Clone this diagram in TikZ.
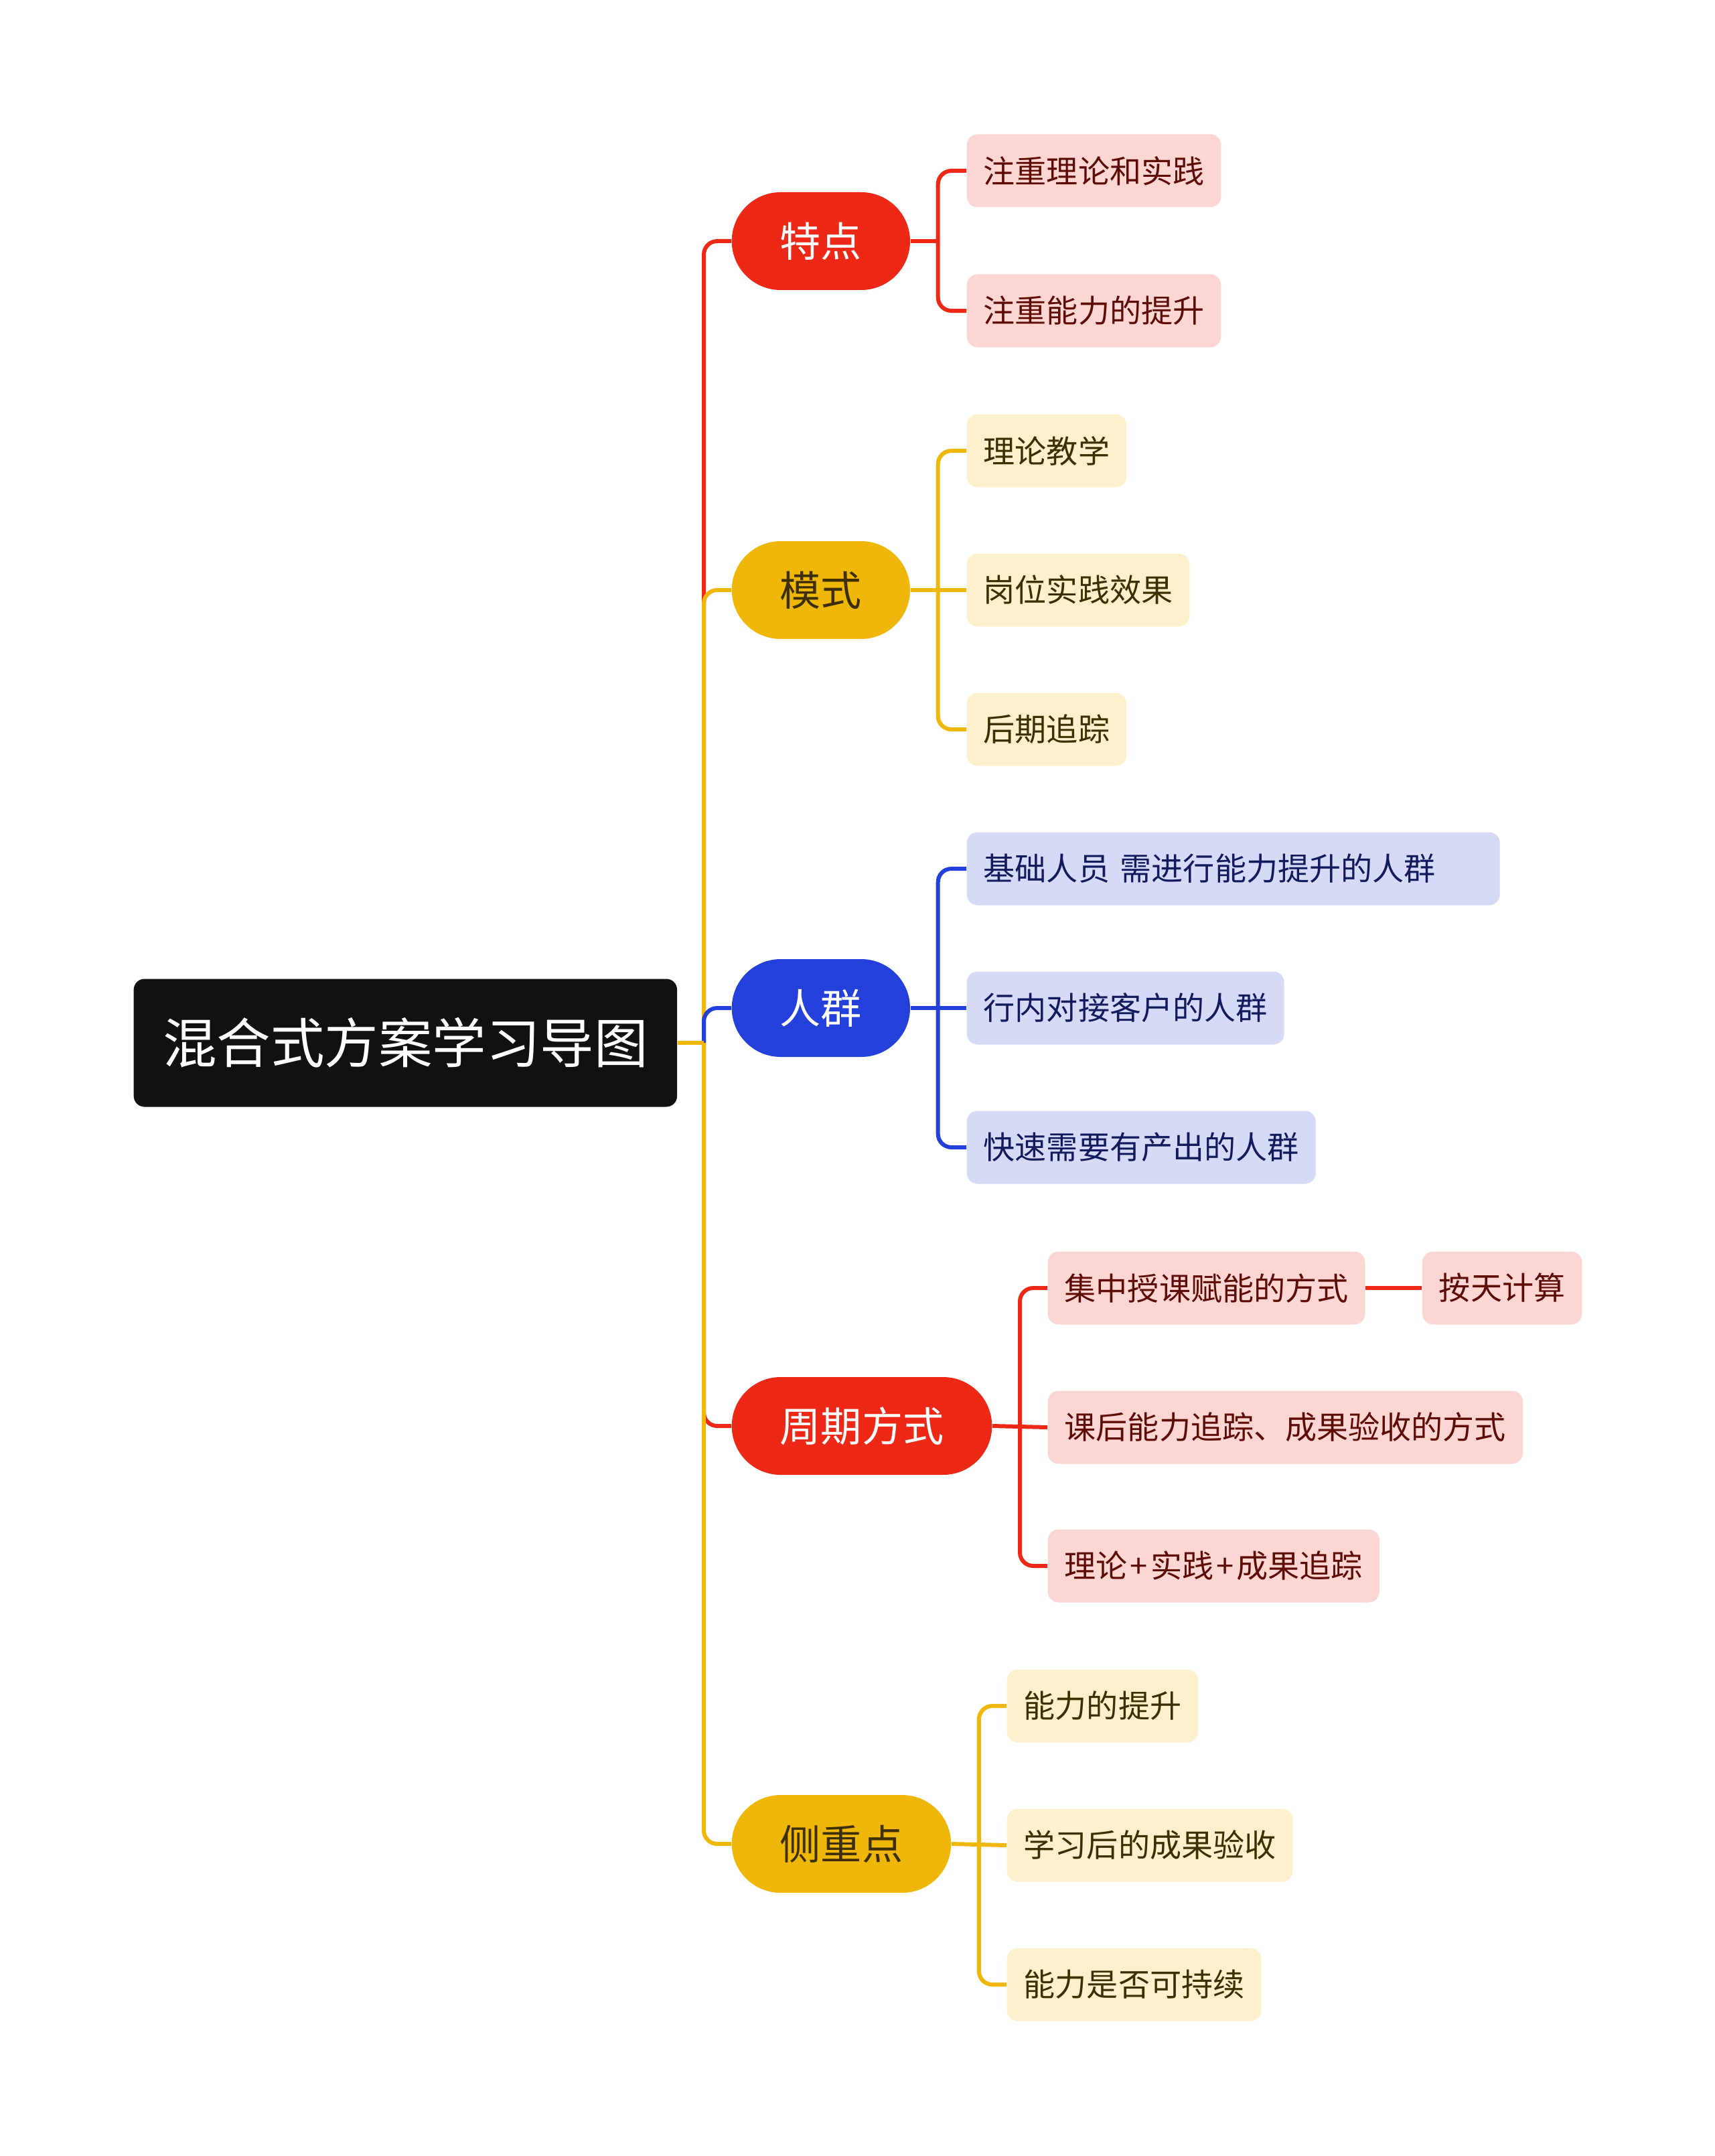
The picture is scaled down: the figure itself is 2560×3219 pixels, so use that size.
\documentclass[tikz,border=0pt]{standalone}
\usepackage{fontspec}
\setmainfont{Noto Sans CJK SC}
\usetikzlibrary{positioning}
\definecolor{rootbg}{HTML}{111111}
\definecolor{redmain}{HTML}{EE2817}
\definecolor{yelmain}{HTML}{EFB70A}
\definecolor{bluemain}{HTML}{2440DA}
\definecolor{redsub}{HTML}{FCD6D3}
\definecolor{yelsub}{HTML}{FDF1CD}
\definecolor{bluesub}{HTML}{D6DAF7}
\definecolor{redtxt}{HTML}{5E0C06}
\definecolor{yeltxt}{HTML}{3E2F00}
\definecolor{bluetxt}{HTML}{131B5C}

\begin{document}
\begin{tikzpicture}
  [x=0.1mm, y=-0.1mm,
   root/.style={fill=rootbg, text=white, rounded corners=1.6mm, anchor=west,
     inner xsep=4.35mm, inner ysep=0pt, minimum height=19.1mm,
     font=\fontsize{22.9pt}{27pt}\selectfont},
   lvone/.style={rounded corners=7.3mm, anchor=west, inner xsep=7.2mm,
     inner ysep=0pt, minimum height=14.6mm,
     font=\fontsize{17.4pt}{20pt}\selectfont},
   lvtwo/.style={rounded corners=1.6mm, anchor=west, inner xsep=2.5mm,
     inner ysep=0pt, minimum height=10.9mm,
     font=\fontsize{13.4pt}{16pt}\selectfont},
   redone/.style={lvone, fill=redmain, text=white},
   yelone/.style={lvone, fill=yelmain, text=yeltxt},
   blueone/.style={lvone, fill=bluemain, text=white},
   redtwo/.style={lvtwo, fill=redsub, text=redtxt},
   yeltwo/.style={lvtwo, fill=yelsub, text=yeltxt},
   bluetwo/.style={lvtwo, fill=bluesub, text=bluetxt},
   link/.style={line width=0.6mm, rounded corners=2mm, line join=round},
  ]
  \useasboundingbox (0,0) rectangle (2560,3219);

  % centre
  \node[root, minimum width=81.1mm] (root) at (199,1557) {混合式方案学习导图};
  \coordinate (trunk) at (1051,1557);

  % main topics
  \node[redone]  (tedian)  at (1092,360)  {特点};
  \node[yelone]  (moshi)   at (1092,881)  {模式};
  \node[blueone] (renqun)  at (1092,1505) {人群};
  \node[redone]  (zhouqi)  at (1092,2129) {周期方式};
  \node[yelone]  (cezhong) at (1092,2753) {侧重点};

  % sub topics
  \node[redtwo] (td1) at (1443,255) {注重理论和实践};
  \node[redtwo] (td2) at (1443,464) {注重能力的提升};

  \node[yeltwo] (ms1) at (1443,673)  {理论教学};
  \node[yeltwo] (ms2) at (1443,881)  {岗位实践效果};
  \node[yeltwo] (ms3) at (1443,1089) {后期追踪};

  \node[bluetwo, text width=74.6mm] (rq1) at (1443,1297) {基础人员 需进行能力提升的人群};
  \node[bluetwo] (rq2) at (1443,1505) {行内对接客户的人群};
  \node[bluetwo] (rq3) at (1443,1713) {快速需要有产出的人群};

  \node[redtwo] (zq1) at (1564,1923) {集中授课赋能的方式};
  \node[redtwo] (zq2) at (1564,2131) {课后能力追踪、成果验收的方式};
  \node[redtwo] (zq3) at (1564,2338) {理论\hspace{0.4mm}+\hspace{0.4mm}实践\hspace{0.4mm}+\hspace{0.4mm}成果追踪};
  \node[redtwo, right=8.4mm of zq1] (zq1a) {按天计算};

  \node[yeltwo] (cz1) at (1503,2547) {能力的提升};
  \node[yeltwo] (cz2) at (1503,2755) {学习后的成果验收};
  \node[yeltwo] (cz3) at (1503,2963) {能力是否可持续};

  % trunk
  \draw[link, redmain]  (trunk) |- (tedian.west);
  \draw[link, yelmain]  (trunk) |- (moshi.west);
  \draw[link, bluemain] (trunk) |- (renqun.west);
  \draw[link, redmain]  (trunk) |- (zhouqi.west);
  \draw[link, yelmain]  (trunk) |- (cezhong.west);
  \draw[link, yelmain]  (root.east) -- (trunk);

  % branches
  \coordinate (tdj) at ([xshift=4.1mm]tedian.east);
  \draw[link, redmain] (tedian.east) -- (tdj);
  \foreach \c in {td1,td2}
    \draw[link, redmain] (tdj) |- (\c.west);

  \coordinate (msj) at ([xshift=4.1mm]moshi.east);
  \draw[link, yelmain] (moshi.east) -- (ms2.west);
  \foreach \c in {ms1,ms3}
    \draw[link, yelmain] (msj) |- (\c.west);

  \coordinate (rqj) at ([xshift=4.1mm]renqun.east);
  \draw[link, bluemain] (renqun.east) -- (rq2.west);
  \foreach \c in {rq1,rq3}
    \draw[link, bluemain] (rqj) |- (\c.west);

  \coordinate (zqj) at ([xshift=4.1mm]zhouqi.east);
  \draw[link, redmain] (zhouqi.east) -- (zq2.west);
  \foreach \c in {zq1,zq3}
    \draw[link, redmain] (zqj) |- (\c.west);
  \draw[link, redmain] (zq1.east) -- (zq1a.west);

  \coordinate (czj) at ([xshift=4.1mm]cezhong.east);
  \draw[link, yelmain] (cezhong.east) -- (cz2.west);
  \foreach \c in {cz1,cz3}
    \draw[link, yelmain] (czj) |- (\c.west);
\end{tikzpicture}
\end{document}
